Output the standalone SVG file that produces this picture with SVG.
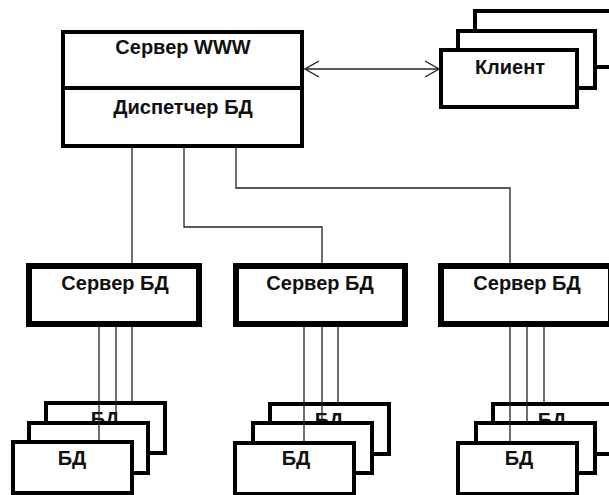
<svg xmlns="http://www.w3.org/2000/svg" width="609" height="495" viewBox="0 0 609 495">
<style>
.box{fill:#fff;stroke:#000;stroke-width:4}
.srv{fill:#fff;stroke:#000;stroke-width:6}
.t{font-family:"Liberation Sans",Arial,sans-serif;font-weight:bold;font-size:20px;text-anchor:middle;fill:#111}
.c{fill:none;stroke:#222;stroke-width:1.3}
</style>
<defs>
<marker id="arr" viewBox="0 0 16 18" refX="15" refY="9" markerWidth="16" markerHeight="18" markerUnits="userSpaceOnUse" orient="auto-start-reverse">
<path d="M1,1 L15,9 L1,17" fill="none" stroke="#222" stroke-width="1.3"/>
</marker>
</defs>
<g id="main">
<rect class="box" x="63" y="32" width="239" height="114"/>
<line x1="63" y1="88" x2="302" y2="88" stroke="#000" stroke-width="4"/>
<text class="t" x="183" y="54">Сервер WWW</text>
<text class="t" x="183" y="114">Диспетчер БД</text>
</g>
<g id="client">
<rect class="box" x="475" y="11" width="140" height="56"/>
<rect class="box" x="458" y="31" width="137" height="57"/>
<rect class="box" x="441" y="50" width="136" height="57"/>
<text class="t" x="510" y="74">Клиент</text>
</g>
<g id="server1">
<rect class="srv" x="29" y="266" width="170" height="58"/>
<text class="t" x="115" y="290">Сервер БД</text>
</g>
<g id="server2">
<rect class="srv" x="236" y="266" width="169" height="58"/>
<text class="t" x="320" y="290">Сервер БД</text>
</g>
<g id="server3">
<rect class="srv" x="441" y="266" width="170" height="58"/>
<text class="t" x="527" y="290">Сервер БД</text>
</g>
<g id="db1">
<rect class="box" x="46" y="403" width="119" height="50"/>
<text class="t" x="105" y="426">БД</text>
<rect class="box" x="29" y="423" width="119" height="50"/>
<rect class="box" x="13" y="442" width="119" height="51"/>
<text class="t" x="72" y="465">БД</text>
</g>
<g id="db2">
<rect class="box" x="270" y="404" width="119" height="50"/>
<text class="t" x="329" y="427">БД</text>
<rect class="box" x="253" y="423" width="119" height="50"/>
<rect class="box" x="235" y="443" width="119" height="51"/>
<text class="t" x="296" y="465">БД</text>
</g>
<g id="db3">
<rect class="box" x="493" y="404" width="119" height="50"/>
<text class="t" x="552" y="427">БД</text>
<rect class="box" x="476" y="423" width="119" height="50"/>
<rect class="box" x="458" y="443" width="119" height="51"/>
<text class="t" x="519" y="465">БД</text>
</g>
<g id="connectors">
<line class="c" x1="305" y1="69" x2="439" y2="69" marker-start="url(#arr)" marker-end="url(#arr)"/>
<polyline class="c" points="132,148 132,263"/>
<polyline class="c" points="184,148 184,227 322,227 322,263"/>
<polyline class="c" points="236,148 236,188 510,188 510,263"/>
<line class="c" x1="99" y1="327" x2="99" y2="440"/>
<line class="c" x1="116" y1="327" x2="116" y2="421"/>
<line class="c" x1="132" y1="327" x2="132" y2="401"/>
<line class="c" x1="304" y1="327" x2="304" y2="441"/>
<line class="c" x1="322" y1="327" x2="322" y2="421"/>
<line class="c" x1="338" y1="327" x2="338" y2="402"/>
<line class="c" x1="510" y1="327" x2="510" y2="441"/>
<line class="c" x1="527" y1="327" x2="527" y2="421"/>
<line class="c" x1="544" y1="327" x2="544" y2="402"/>
</g>
</svg>
